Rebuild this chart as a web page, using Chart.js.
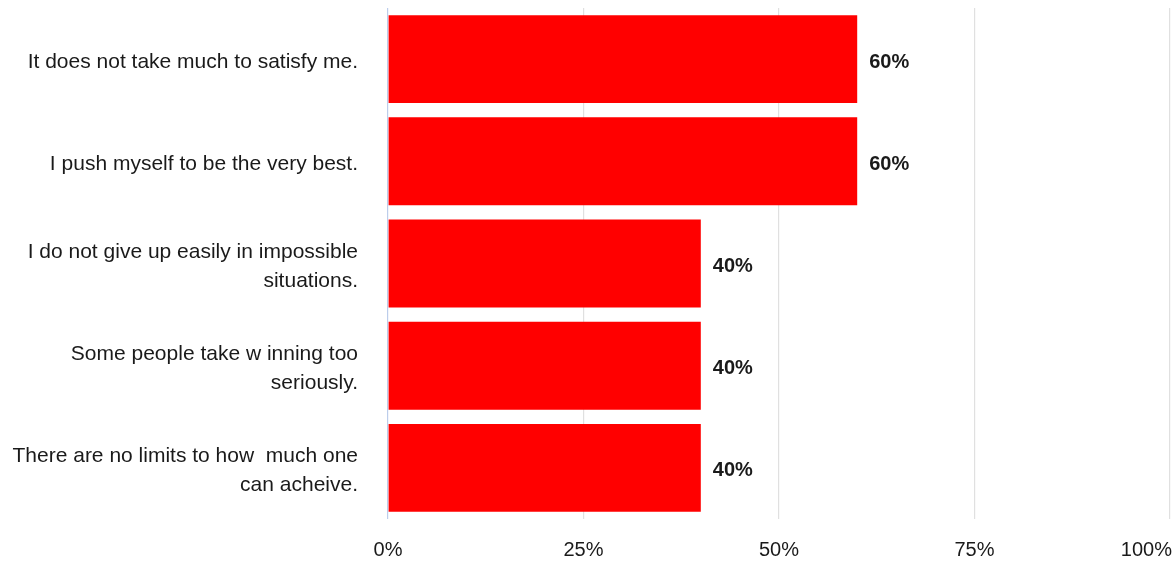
<!DOCTYPE html>
<html>
<head>
<meta charset="utf-8">
<script src="https://cdn.jsdelivr.net/npm/chart.js@4"></script>
<style>
  html, body { margin: 0; padding: 0; background: #fff; }
  #wrap { width: 1176px; height: 563px; }
</style>
</head>
<body>
<div id="wrap"><canvas id="chart"></canvas></div>
<script>
    const statements = [
        ['It does not take much to satisfy me.'],
        ['I push myself to be the very best.'],
        ['I do not give up easily in impossible', 'situations.'],
        ['Some people take w inning too', 'seriously.'],
        ['There are no limits to how  much one', 'can acheive.']
    ];
    const agreePercent = [60, 60, 40, 40, 40];
    const xTickValues = [0, 25, 50, 75, 100];

    const fontFamily = '"Liberation Sans", Arial, sans-serif';

    // percentage next to the end of each bar
    const valueLabels = {
        id: 'valueLabels',
        afterDatasetsDraw(chart) {
            const ctx = chart.ctx;
            const meta = chart.getDatasetMeta(0);
            ctx.save();
            ctx.font = 'bold 20px ' + fontFamily;
            ctx.fillStyle = '#1a1a1a';
            ctx.textAlign = 'left';
            ctx.textBaseline = 'middle';
            meta.data.forEach((bar, i) => {
                ctx.fillText(agreePercent[i] + '%', bar.x + 12, bar.y + 3);
            });
            ctx.restore();
        }
    };

    // x tick labels, the last one kept inside the canvas
    const xTickLabels = {
        id: 'xTickLabels',
        afterDraw(chart) {
            const ctx = chart.ctx;
            const scale = chart.scales.x;
            ctx.save();
            ctx.font = '20px ' + fontFamily;
            ctx.fillStyle = '#1a1a1a';
            ctx.textBaseline = 'middle';
            ctx.textAlign = 'left';
            scale.ticks.forEach((tick, i) => {
                const text = tick.value + '%';
                const w = ctx.measureText(text).width;
                let x = scale.getPixelForTick(i) - w / 2;
                if (x + w > chart.width - 4) x = chart.width - 4 - w;
                ctx.fillText(text, x, chart.chartArea.bottom + 31);
            });
            ctx.restore();
        }
    };

    new Chart(document.getElementById('chart'), {
        type: 'bar',
        data: {
            labels: statements,
            datasets: [{
                data: agreePercent,
                backgroundColor: '#ff0000',
                borderWidth: 0,
                categoryPercentage: 1,
                barPercentage: 0.86
            }]
        },
        options: {
            indexAxis: 'y',
            responsive: true,
            maintainAspectRatio: false,
            animation: false,
            layout: { padding: { top: 8, right: 6, left: 0, bottom: 0 } },
            plugins: {
                legend: { display: false },
                tooltip: { enabled: false }
            },
            scales: {
                x: {
                    min: 0,
                    max: 100,
                    afterBuildTicks(scale) {
                        scale.ticks = xTickValues.map(v => ({ value: v }));
                    },
                    afterFit(scale) {
                        scale.height = 44;
                        scale.paddingLeft = 0;
                        scale.paddingRight = 0;
                    },
                    ticks: { display: false },
                    border: { display: false },
                    grid: {
                        drawTicks: false,
                        lineWidth: 1.2,
                        color: ctx => ctx.tick && ctx.tick.value === 0 ? '#bccdeb' : '#e0e0e0'
                    }
                },
                y: {
                    afterFit(scale) {
                        scale.width = 388;
                        scale.paddingTop = 0;
                        scale.paddingBottom = 0;
                    },
                    border: { display: false },
                    grid: { display: false, drawTicks: false },
                    ticks: {
                        padding: 30,
                        labelOffset: 3,
                        color: '#1a1a1a',
                        font: { family: fontFamily, size: 21, lineHeight: 1.36 }
                    }
                }
            }
        },
        plugins: [valueLabels, xTickLabels]
    });
</script>
</body>
</html>
